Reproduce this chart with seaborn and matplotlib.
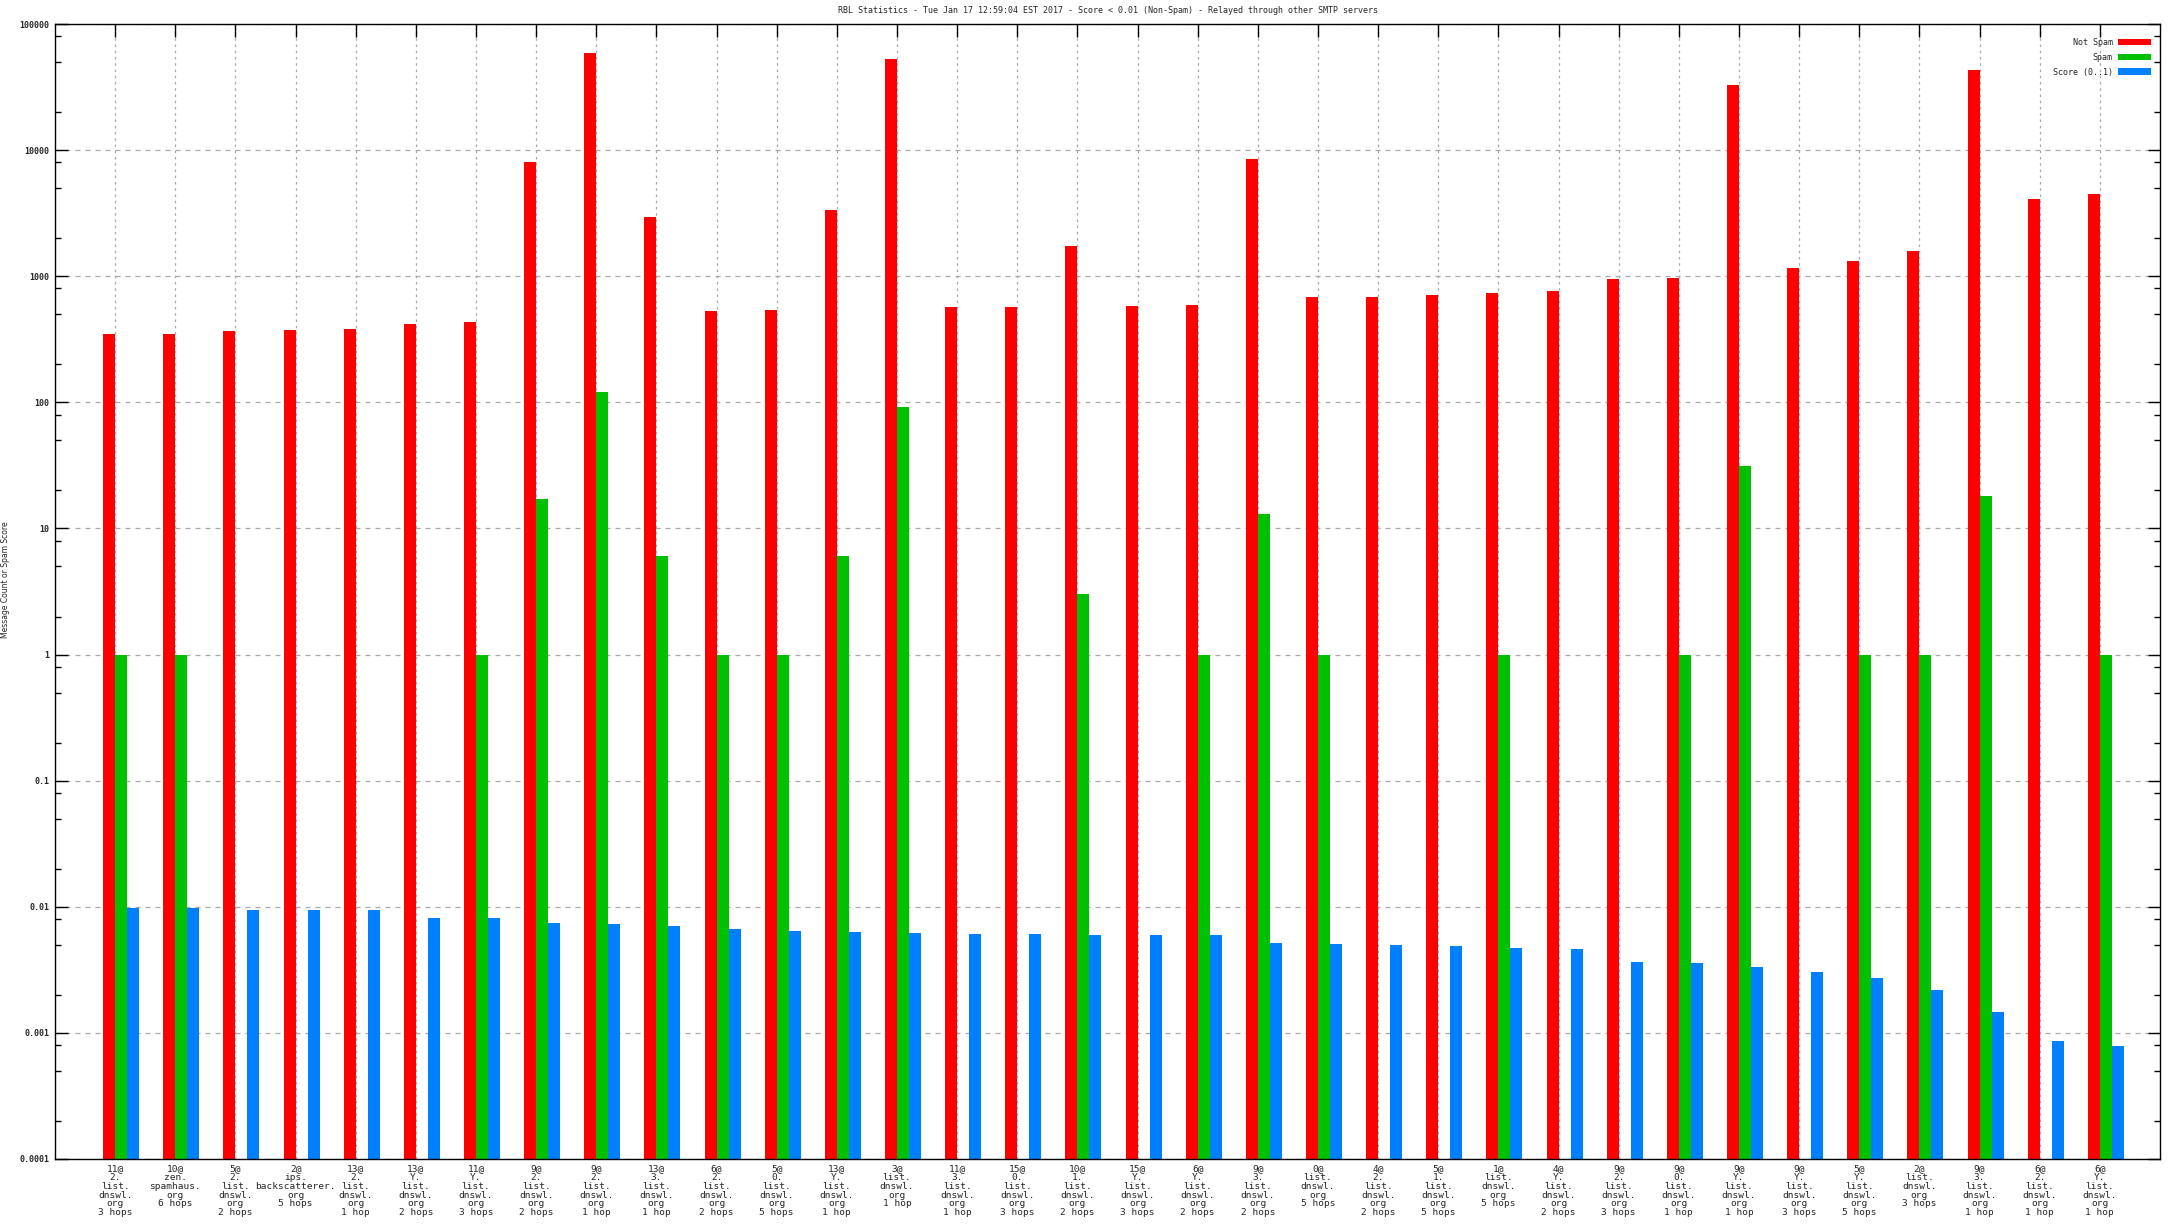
import numpy as np
import pandas as pd
import seaborn as sns
import matplotlib.pyplot as plt
from matplotlib.patches import Patch
from matplotlib.ticker import FixedLocator, LogLocator, NullFormatter

# Categories (RBL server @ hops), one per bar group
servers = [
    "11@\n2.\nlist.\ndnswl.\norg\n3 hops",
    "10@\nzen.\nspamhaus.\norg\n6 hops",
    "5@\n2.\nlist.\ndnswl.\norg\n2 hops",
    "2@\nips.\nbackscatterer.\norg\n5 hops",
    "13@\n2.\nlist.\ndnswl.\norg\n1 hop",
    "13@\nY.\nlist.\ndnswl.\norg\n2 hops",
    "11@\nY.\nlist.\ndnswl.\norg\n3 hops",
    "9@\n2.\nlist.\ndnswl.\norg\n2 hops",
    "9@\n2.\nlist.\ndnswl.\norg\n1 hop",
    "13@\n3.\nlist.\ndnswl.\norg\n1 hop",
    "6@\n2.\nlist.\ndnswl.\norg\n2 hops",
    "5@\n0.\nlist.\ndnswl.\norg\n5 hops",
    "13@\nY.\nlist.\ndnswl.\norg\n1 hop",
    "3@\nlist.\ndnswl.\norg\n1 hop",
    "11@\n3.\nlist.\ndnswl.\norg\n1 hop",
    "15@\n0.\nlist.\ndnswl.\norg\n3 hops",
    "10@\n1.\nlist.\ndnswl.\norg\n2 hops",
    "15@\nY.\nlist.\ndnswl.\norg\n3 hops",
    "6@\nY.\nlist.\ndnswl.\norg\n2 hops",
    "9@\n3.\nlist.\ndnswl.\norg\n2 hops",
    "0@\nlist.\ndnswl.\norg\n5 hops",
    "4@\n2.\nlist.\ndnswl.\norg\n2 hops",
    "5@\n1.\nlist.\ndnswl.\norg\n5 hops",
    "1@\nlist.\ndnswl.\norg\n5 hops",
    "4@\nY.\nlist.\ndnswl.\norg\n2 hops",
    "9@\n2.\nlist.\ndnswl.\norg\n3 hops",
    "9@\n0.\nlist.\ndnswl.\norg\n1 hop",
    "9@\nY.\nlist.\ndnswl.\norg\n1 hop",
    "9@\nY.\nlist.\ndnswl.\norg\n3 hops",
    "5@\nY.\nlist.\ndnswl.\norg\n5 hops",
    "2@\nlist.\ndnswl.\norg\n3 hops",
    "9@\n3.\nlist.\ndnswl.\norg\n1 hop",
    "6@\n2.\nlist.\ndnswl.\norg\n1 hop",
    "6@\nY.\nlist.\ndnswl.\norg\n1 hop",
]

nan = np.nan
not_spam = [350, 348, 370, 375, 380, 420, 430, 8000, 58700, 2960,
            528, 540, 3360, 53000, 570, 575, 1740, 585, 590, 8570,
            680, 690, 710, 740, 760, 945, 970, 32800, 1160, 1320,
            1580, 43300, 4110, 4500]
spam = [1, 1, nan, nan, nan, nan, 1, 17, 120, 6,
        1, 1, 6, 92, nan, nan, 3, nan, 1, 13,
        1, nan, nan, 1, nan, nan, 1, 31, nan, 1,
        1, 18, nan, 1]
score = [0.0098, 0.0098, 0.0095, 0.0094, 0.0094, 0.0082, 0.0081, 0.0074, 0.0073, 0.0071,
         0.0067, 0.0064, 0.0063, 0.0062, 0.0061, 0.0061, 0.0060, 0.0060, 0.0060, 0.0052,
         0.0051, 0.0050, 0.0049, 0.0047, 0.0046, 0.00366, 0.0036, 0.0033, 0.00306, 0.0027,
         0.0022, 0.00147, 0.00086, 0.00078]

series_names = ["Not Spam", "Spam", "Score (0..1)"]
series_colors = ["#ff0000", "#00c000", "#0080ff"]

y_ticks = [1e-4, 1e-3, 1e-2, 1e-1, 1, 10, 100, 1000, 10000, 100000]
y_tick_labels = ["0.0001", "0.001", "0.01", "0.1", "1", "10", "100", "1000", "10000", "100000"]

title = ("RBL Statistics - Tue Jan 17 12:59:04 EST 2017 - Score < 0.01 (Non-Spam) "
         "- Relayed through other SMTP servers")

# Long-form table for seaborn
n = len(servers)
df = pd.DataFrame({
    "idx": np.tile(np.arange(n), 3),
    "series": np.repeat(series_names, n),
    "value": not_spam + spam + score,
})

sns.set_theme(style="white")
plt.rcParams["font.family"] = ["DejaVu Sans Mono", "DejaVu Sans"]

fig = plt.figure(figsize=(21.76, 12.24), dpi=100)
ax = fig.add_axes([55 / 2176, 1 - 1159 / 1224, (2160 - 55) / 2176, (1159 - 24) / 1224])

sns.barplot(data=df, x="idx", y="value", hue="series", hue_order=series_names,
            palette=series_colors, width=0.6, gap=0, dodge=True,
            errorbar=None, legend=False, saturation=1, linewidth=0, ax=ax)

ax.set_yscale("log")
ax.set_ylim(1e-4, 1e5)
ax.set_xlim(-1.1, n - 1 + 0.9)

# Ticks
ax.set_xticks(np.arange(n) - 0.1)
ax.set_xticklabels(servers, fontsize=6.8, linespacing=0.95)
ax.yaxis.set_major_locator(FixedLocator(y_ticks))
ax.set_yticklabels(y_tick_labels, fontsize=6, fontweight="bold")
ax.yaxis.set_minor_locator(LogLocator(base=10, subs=[2, 5, 8], numticks=20))
ax.yaxis.set_minor_formatter(NullFormatter())
ax.tick_params(axis="both", which="major", direction="in", length=9, width=1,
               color="black", top=True, right=True, left=True)
ax.tick_params(axis="x", which="major", bottom=False, labelbottom=True, pad=4)
ax.tick_params(axis="y", which="minor", direction="in", length=4.5, width=1,
               color="black", right=True, left=True)
ax.tick_params(axis="y", pad=4)

# Grid
ax.set_axisbelow(True)
ax.xaxis.grid(True, linestyle=(0, (2, 3)), color="#a8a8a8", linewidth=0.9)
ax.yaxis.grid(True, which="major", linestyle=(0, (4, 4)), color="#a8a8a8", linewidth=0.9)

for sp in ax.spines.values():
    sp.set_visible(True)
    sp.set_color("black")
    sp.set_linewidth(1.0)

ax.set_xlabel("")
ax.set_ylabel("")
fig.text(6 / 2176, 1 - 580 / 1224, "Message Count or Spam Score", rotation=90,
         ha="center", va="center", fontsize=5.5, family="DejaVu Sans")
ax.set_title(title, fontsize=6, pad=8)

# Legend (text left of colour swatch)
handles = [Patch(facecolor=c, edgecolor="none", label=s) for s, c in zip(series_names, series_colors)]
ax.legend(handles=handles, loc="upper right", markerfirst=False, frameon=False,
          fontsize=6, handlelength=4.0, handleheight=0.85, handletextpad=0.6,
          labelspacing=0.7, borderpad=0, borderaxespad=0,
          bbox_to_anchor=(1 - 9 / 2105, 1 - 14 / 1135))

fig.savefig("out.png", dpi=100)
